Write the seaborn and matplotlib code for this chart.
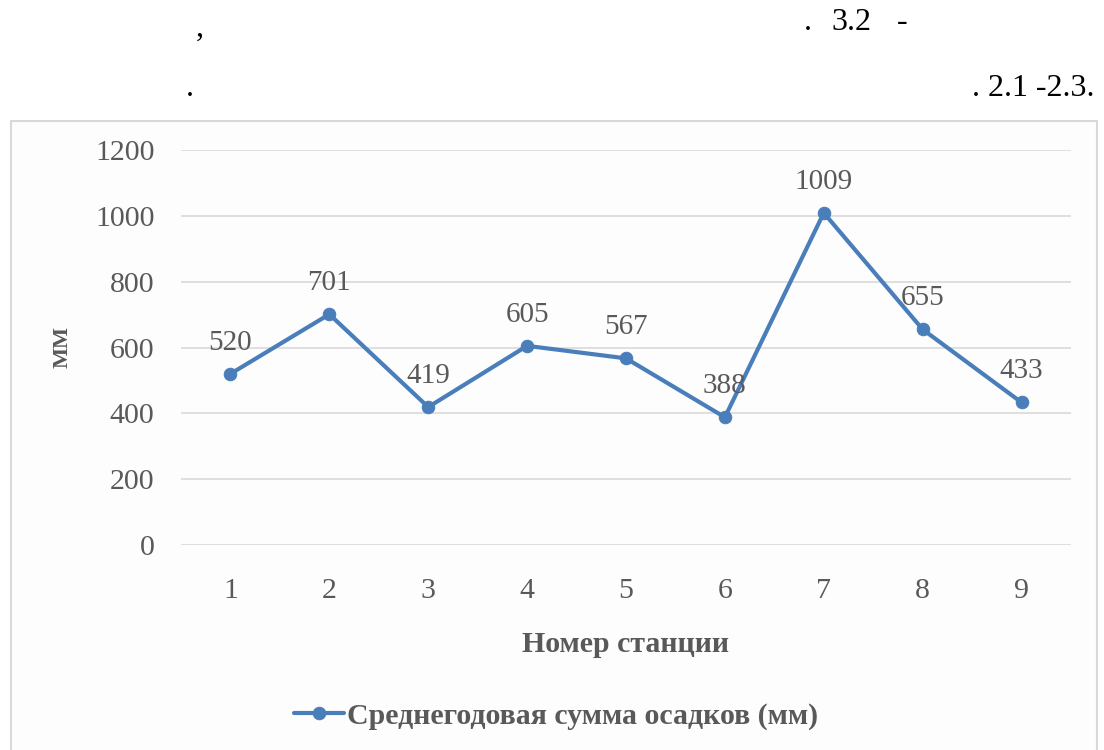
import matplotlib
matplotlib.use("Agg")
import matplotlib.pyplot as plt
import matplotlib.patches as mpatches
import seaborn as sns
import pandas as pd

stations = [1, 2, 3, 4, 5, 6, 7, 8, 9]
precip = [520, 701, 419, 605, 567, 388, 1009, 655, 433]
y_ticks = [0, 200, 400, 600, 800, 1000, 1200]
series_name = "Среднегодовая сумма осадков (мм)"
x_label = "Номер станции"
y_label = "ММ"

sns.set_theme(style="white")
plt.rcParams["font.family"] = ["Liberation Serif", "DejaVu Serif"]

text_grey = "#595959"
line_blue = "#4A7EBB"
grid_grey = "#d9d9d9"
fs = 21.5

df = pd.DataFrame({"station": stations, "value": precip})

fig = plt.figure(figsize=(11.04, 7.5), dpi=100)
fig.patch.set_facecolor("white")

# chart frame
frame = mpatches.Rectangle((11 / 1104, -0.01), (1097 - 11) / 1104, 1 - 121 / 750 + 0.01,
                           transform=fig.transFigure, facecolor="#fdfdfd",
                           edgecolor=grid_grey, linewidth=1.5, zorder=-10)
fig.patches.append(frame)

# surrounding document text
doc_fs = 23
fig.text(200 / 1104, 1 - 28 / 750, ",", fontsize=doc_fs, color="black", ha="center", va="center")
fig.text(808 / 1104, 1 - 23 / 750, ".", fontsize=doc_fs, color="black", ha="center", va="center")
fig.text(831 / 1104, 1 - 23 / 750, "3.2", fontsize=doc_fs, color="black", ha="left", va="center")
fig.text(902 / 1104, 1 - 23 / 750, "-", fontsize=doc_fs, color="black", ha="center", va="center")
fig.text(190 / 1104, 1 - 89 / 750, ".", fontsize=doc_fs, color="black", ha="center", va="center")
fig.text(1094 / 1104, 1 - 89 / 750, ". 2.1 -2.3.", fontsize=doc_fs, color="black", ha="right", va="center")

ax = fig.add_axes([181 / 1104, 1 - 545 / 750, (1071 - 181) / 1104, (545 - 150) / 750])
ax.set_facecolor("none")

sns.lineplot(data=df, x="station", y="value", ax=ax, color=line_blue, linewidth=3,
             marker="o", markersize=9, markeredgecolor=line_blue, label=series_name,
             legend=False, zorder=3)

for s, v in zip(stations, precip):
    ax.annotate(f"{v}", (s, v), xytext=(0, 22.5), textcoords="offset points",
                ha="center", va="center", fontsize=21, color=text_grey, zorder=4)

ax.set_xlim(0.5, 9.5)
ax.set_ylim(0, 1200)
ax.set_yticks(y_ticks)
ax.set_xticks(stations)
ax.tick_params(axis="both", length=0, labelsize=fs, labelcolor=text_grey)
ax.tick_params(axis="y", pad=19)
ax.tick_params(axis="x", pad=24)
ax.grid(axis="y", color=grid_grey, linewidth=1.2)
ax.set_axisbelow(True)
for sp in ax.spines.values():
    sp.set_visible(False)

ax.set_xlabel(x_label, fontsize=fs, fontweight="bold", color=text_grey)
ax.set_ylabel(y_label, fontsize=16, fontweight="bold", color=text_grey)
ax.xaxis.set_label_coords(0.5, 1 - (631 - 150) / (545 - 150))
ax.yaxis.set_label_coords((73 - 181) / (1071 - 181), 0.5)

handles, labels = ax.get_legend_handles_labels()
leg = fig.legend(handles, labels, loc="center", bbox_to_anchor=(556 / 1104, 1 - 716 / 750),
                 frameon=False, handlelength=1.7, handletextpad=0.1,
                 prop={"size": fs, "weight": "bold"})
for t in leg.get_texts():
    t.set_color(text_grey)

fig.savefig("out.png", dpi=100)
